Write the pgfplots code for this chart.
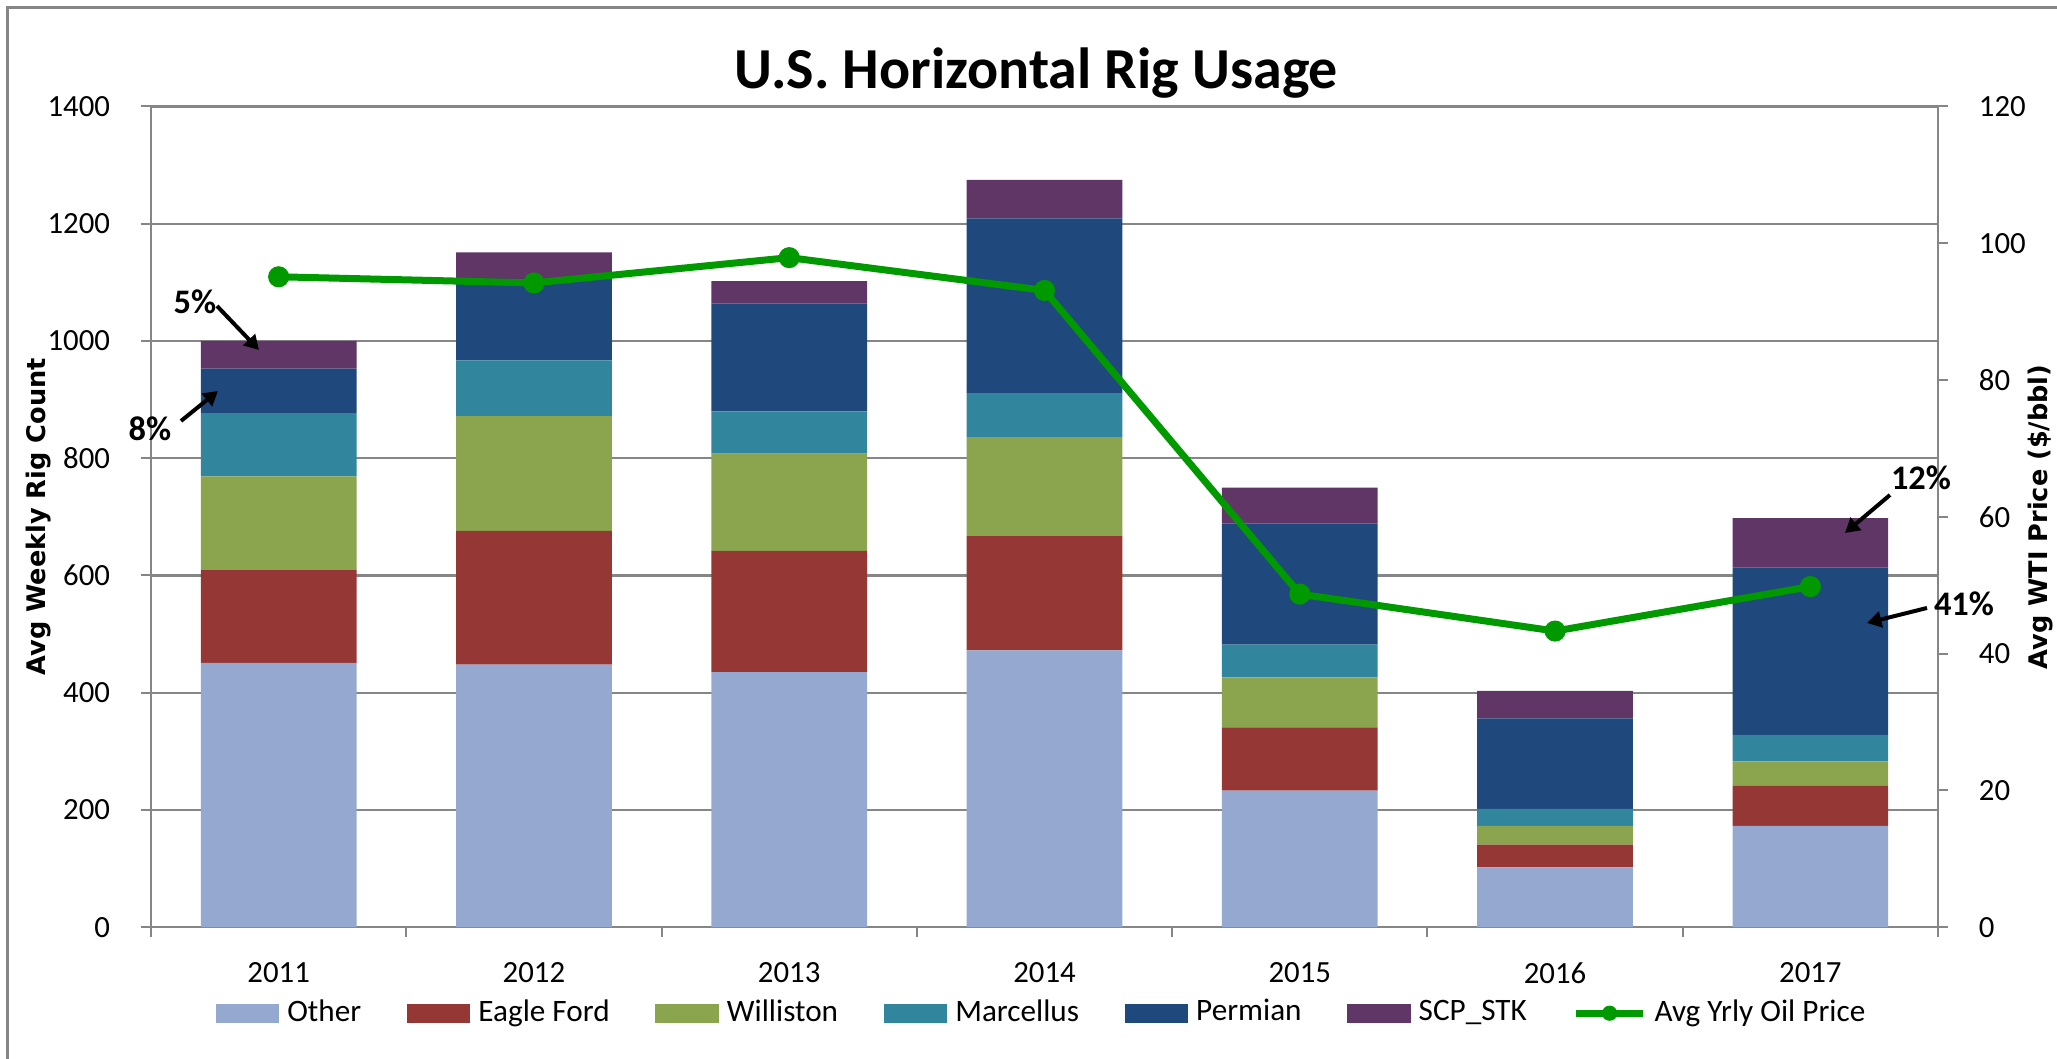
\documentclass[border=0pt]{standalone}
\usepackage{fontspec}
\setmainfont{Carlito}
\newfontfamily\dejavu{DejaVu Sans}
\usepackage{pgfplots}
\pgfplotsset{compat=1.18}
\usepackage{pgfplotstable}
\usetikzlibrary{arrows.meta}

\definecolor{cOther}{RGB}{149,169,208}
\definecolor{cEagle}{RGB}{149,55,53}
\definecolor{cWill}{RGB}{138,165,78}
\definecolor{cMarc}{RGB}{49,133,156}
\definecolor{cPerm}{RGB}{31,73,125}
\definecolor{cSCP}{RGB}{96,54,103}
\definecolor{cOil}{RGB}{0,153,0}
\definecolor{cAxis}{RGB}{134,134,134}

% avg weekly rig count by basin, avg WTI price
\pgfplotstableread{
x Other Eagle Williston Marcellus Permian SCP Oil
1 451 159 159 108 76 47 95.1
2 448 228 196 95 139 45 94.2
3 435 207 166 72 184 38 97.9
4 472 196 168 75 298 66 93.1
5 233 108 85 56 207 61 48.7
6 102 39 32 29 154 47 43.3
7 173 68 42 45 286 84 49.8
}\rigdata

\pgfplotsset{
  rigbase/.style={
    scale only axis, width=446.75pt, height=205.175pt,
    at={(37.75pt,32.95pt)}, anchor=south west,
    xmin=0.5, xmax=7.5,
    ticklabel style={font=\fontsize{7.7}{9}\selectfont},
    /pgf/number format/assume math mode=true,
    /pgf/number format/1000 sep={},
    tick align=outside, major tick length=2.5pt,
    axis line style={-, cAxis, line width=0.5pt},
    tick style={cAxis, line width=0.5pt},
  },
}

\begin{document}
\begin{tikzpicture}
\path[use as bounding box] (0,0) rectangle (514.25pt,264.75pt);
\draw[cAxis, line width=0.75pt] (1.875pt,0pt) -- (1.875pt,262.875pt) -- (514.25pt,262.875pt);

\begin{axis}[rigbase,
  ybar stacked, bar width=0.61,
  ymin=0, ymax=1400, ytick={0,200,...,1400},
  axis y line*=left, axis x line*=bottom,
  ymajorgrids, grid style={cAxis, line width=0.6pt},
  xtick={1,...,7}, xticklabels={2011,2012,2013,2014,2015,2016,2017},
  xtick style={draw=none},
  extra x ticks={0.5,1.5,...,7.5}, extra x tick labels={},
  extra x tick style={xtick style={draw=cAxis}},
  yticklabel style={xshift=-4.2pt},
  xticklabel style={yshift=-2.8pt},
  ylabel={\dejavu\bfseries Avg Weekly Rig Count},
  ylabel style={at={(axis description cs:-0.0627,0.5)}, anchor=center,
    font=\fontsize{6.4}{7}\selectfont},
]
\addplot[fill=cOther, draw=none] table[x=x,y=Other]{\rigdata};
\addplot[fill=cEagle, draw=none] table[x=x,y=Eagle]{\rigdata};
\addplot[fill=cWill, draw=none] table[x=x,y=Williston]{\rigdata};
\addplot[fill=cMarc, draw=none] table[x=x,y=Marcellus]{\rigdata};
\addplot[fill=cPerm, draw=none] table[x=x,y=Permian]{\rigdata};
\addplot[fill=cSCP, draw=none] table[x=x,y=SCP]{\rigdata};
\end{axis}

\begin{axis}[rigbase,
  ymin=0, ymax=120, ytick={0,20,...,120},
  axis y line*=right, axis x line=none, xtick=\empty,
  yticklabel style={xshift=4.2pt},
  ylabel={\dejavu\bfseries Avg WTI Price (\$/bbl)},
  ylabel style={at={(axis description cs:1.0571,0.5)}, anchor=center,
    font=\fontsize{6.4}{7}\selectfont},
  legend style={at={(0.5,-0.1048)}, anchor=center, draw=none, fill=none,
    legend columns=-1, font=\fontsize{7.8}{9}\selectfont,
    /tikz/every even column/.append style={column sep=9.4pt}},
  legend cell align=left,
]
\addlegendimage{legend image code/.code={\fill[cOther] (0pt,-2.2pt) rectangle (15.5pt,2.2pt);}}
\addlegendentry{Other}
\addlegendimage{legend image code/.code={\fill[cEagle] (0pt,-2.2pt) rectangle (15.5pt,2.2pt);}}
\addlegendentry{Eagle Ford}
\addlegendimage{legend image code/.code={\fill[cWill] (0pt,-2.2pt) rectangle (15.5pt,2.2pt);}}
\addlegendentry{Williston}
\addlegendimage{legend image code/.code={\fill[cMarc] (0pt,-2.2pt) rectangle (15.5pt,2.2pt);}}
\addlegendentry{Marcellus}
\addlegendimage{legend image code/.code={\fill[cPerm] (0pt,-2.2pt) rectangle (15.5pt,2.2pt);}}
\addlegendentry{Permian}
\addlegendimage{legend image code/.code={\fill[cSCP] (0pt,-2.2pt) rectangle (15.5pt,2.2pt);}}
\addlegendentry{SCP\_STK}
\addlegendimage{legend image code/.code={\draw[cOil, line width=1.75pt] (0pt,0pt) -- (16.75pt,0pt); \fill[cOil] (8.4pt,0pt) circle (1.7pt);}}
\addlegendentry{Avg Yrly Oil Price}
\addplot[cOil, line width=1.75pt, mark=*, mark size=1.75pt,
  mark options={fill=cOil, draw=none}, forget plot] table[x=x,y=Oil]{\rigdata};
\end{axis}

\node[font={\fontsize{14.5}{17}\selectfont\bfseries}] at (259pt,246.6pt) {U.S. Horizontal Rig Usage};

\begin{scope}[shift={(0pt,264.75pt)}, x=0.25pt, y=-0.25pt,
  every node/.style={font={\fontsize{8.6}{10}\selectfont\bfseries}, inner sep=0pt},
  arr/.style={-{Triangle[length=3.6pt,width=4pt]}, line width=1pt}]
\node at (195,302) {5\%};
\draw[arr] (217,306) -- (259,350);
\node at (150,429) {8\%};
\draw[arr] (181,421) -- (218,391);
\node at (1921,478) {12\%};
\draw[arr] (1890,495) -- (1845,533);
\node at (1964,604) {41\%};
\draw[arr] (1927,608) -- (1867,623);
\end{scope}
\end{tikzpicture}
\end{document}
